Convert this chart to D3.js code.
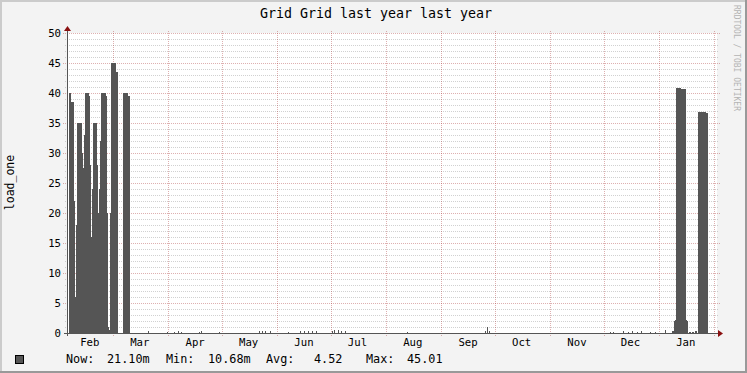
<!DOCTYPE html>
<html>
<head>
<meta charset="utf-8">
<script src="https://cdn.jsdelivr.net/npm/d3@7"></script>
<style>
  html, body { margin: 0; padding: 0; background: #f3f3f3; }
  svg { display: block; }
  text { font-family: "DejaVu Sans Mono", monospace; fill: #000; }
</style>
</head>
<body>
<svg id="chart" width="747" height="373"></svg>
<script>
// rrd step for the yearly archive: one sample per pixel column
const stepHours = 13.45;

// february burst
const febStart = new Date(2013, 1, 3, 18, 27);
const febLoad = [0, 40, 40, 38.5, 38.5, 38.5, 22, 6, 18, 35, 35, 35, 35, 35, 30, 27.5, 33,
  40, 40, 40, 40, 39.5, 28, 16, 24, 35, 35, 35, 35, 28, 20, 24, 32, 40, 40, 40, 40, 40, 39.5,
  20, 1, 0.5, 20, 45, 45, 45, 45, 45, 43.5, 43.5, 0, 0, 0, 0, 0, 40, 40, 40, 40, 40, 39.5, 39.5, 0];

// january burst
const janStart = new Date(2014, 0, 8, 7);
const janLoad = [0.3, 0.3, 2, 2.2, 40.8, 40.8, 40.8, 40.8, 40.8, 40.6, 40.7, 40.7, 40.7, 40.6,
  2.2, 2, 0, 0.2, 0.2, 0, 0.2, 0.2, 0, 0.3, 0.3, 0, 36.8, 36.8, 36.8, 36.8, 36.8, 36.8, 36.8,
  36.8, 36.7, 36.7, 0];

// the little bits in between
const blips = [
  ['2013-03-20 12:00', 0.3], ['2013-03-31 12:00', 0.2], ['2013-04-04 00:00', 0.25],
  ['2013-04-06 12:00', 0.3], ['2013-04-08 00:00', 0.2], ['2013-04-18 00:00', 0.25],
  ['2013-04-19 12:00', 0.3], ['2013-04-29 12:00', 0.2], ['2013-05-22 00:00', 0.35],
  ['2013-05-23 12:00', 0.3], ['2013-05-25 00:00', 0.4], ['2013-05-28 00:00', 0.3],
  ['2013-06-07 00:00', 0.25], ['2013-06-14 00:00', 0.3], ['2013-06-16 00:00', 0.35],
  ['2013-06-18 00:00', 0.3], ['2013-06-20 12:00', 0.35], ['2013-06-23 00:00', 0.3],
  ['2013-07-01 12:00', 0.4], ['2013-07-03 00:00', 0.45], ['2013-07-05 00:00', 0.5],
  ['2013-07-07 00:00', 0.4], ['2013-07-09 00:00', 0.35], ['2013-08-12 12:00', 0.15],
  ['2013-09-25 12:00', 0.3], ['2013-09-26 12:00', 1.05], ['2013-09-27 12:00', 0.3],
  ['2013-12-04 12:00', 0.25], ['2013-12-06 00:00', 0.2], ['2013-12-12 00:00', 0.3],
  ['2013-12-14 12:00', 0.25], ['2013-12-17 00:00', 0.3], ['2013-12-19 12:00', 0.25],
  ['2013-12-22 00:00', 0.3], ['2013-12-27 00:00', 0.25], ['2013-12-29 12:00', 0.2],
  ['2014-01-04 12:00', 0.5]
];

const yTicks = [0, 5, 10, 15, 20, 25, 30, 35, 40, 45, 50];
const title = 'Grid Grid last year last year';
const unitLabel = 'load_one';
const legendItems = [
  ['Now:', 66], ['21.10m', 107], ['Min:', 166], ['10.68m', 208],
  ['Avg:', 266], ['4.52', 314], ['Max:', 366], ['45.01', 407]
];

const W = 747, H = 373;
const colors = {
  back: '#f3f3f3', shadeA: '#cbcbcb', shadeB: '#999999', canvas: '#ffffff',
  grid: 'rgba(140,140,140,0.4)', mgrid: 'rgba(160,30,30,0.35)',
  axis: '#555555', arrow: '#8a1010', area: '#555555'
};

const svg = d3.select('#chart');
const step = stepHours * 3600 * 1000;
const parse = d3.timeParse('%Y-%m-%d %H:%M');

const tStart = new Date(2013, 1, 3, 5);
const tEnd = new Date(2014, 1, 2, 12);
const x = d3.scaleTime().domain([tStart, tEnd]).range([67, 717]);
const y = d3.scaleLinear().domain([0, 50]).range([333, 33]);

// build one series out of the pieces
let series = [{ t: tStart, v: 0 }];
function pushBlock(start, vals) {
  vals.forEach(function (v, i) {
    series.push({ t: new Date(+start + i * step), v: v });
  });
  series.push({ t: new Date(+start + vals.length * step), v: 0 });
}
pushBlock(febStart, febLoad);
blips.forEach(function (b) { pushBlock(parse(b[0]), [b[1]]); });
pushBlock(janStart, janLoad);
series.push({ t: tEnd, v: 0 });
series.sort(function (a, b) { return a.t - b.t; });

// frame
svg.append('rect').attr('width', W).attr('height', H).attr('fill', colors.back);
svg.append('rect').attr('x', 0).attr('y', 0).attr('width', W).attr('height', 2).attr('fill', colors.shadeA);
svg.append('rect').attr('x', 0).attr('y', 0).attr('width', 2).attr('height', H).attr('fill', colors.shadeA);
svg.append('rect').attr('x', 0).attr('y', H - 2).attr('width', W).attr('height', 2).attr('fill', colors.shadeB);
svg.append('rect').attr('x', W - 2).attr('y', 0).attr('width', 2).attr('height', H).attr('fill', colors.shadeB);

svg.append('rect')
  .attr('x', 67).attr('y', 33).attr('width', 650).attr('height', 300)
  .attr('fill', colors.canvas);

// grid
const g = svg.append('g').attr('stroke-dasharray', '1,1').attr('fill', 'none');
d3.range(1, 50).filter(function (v) { return v % 5 !== 0; }).forEach(function (v) {
  const yy = Math.round(y(v)) + 0.5;
  g.append('line').attr('x1', 65).attr('x2', 719).attr('y1', yy).attr('y2', yy)
    .attr('stroke', colors.grid);
});
yTicks.filter(function (v) { return v > 0; }).forEach(function (v) {
  const yy = Math.round(y(v)) + 0.5;
  g.append('line').attr('x1', 63).attr('x2', 720).attr('y1', yy).attr('y2', yy)
    .attr('stroke', colors.mgrid);
});
const months = d3.timeMonth.range(tStart, tEnd);
months.forEach(function (m) {
  const xx = Math.round(x(m)) + 0.5;
  g.append('line').attr('x1', xx).attr('x2', xx).attr('y1', 31).attr('y2', 336)
    .attr('stroke', colors.mgrid);
});

// data
const area = d3.area()
  .x(function (d) { return x(d.t); })
  .y0(y(0))
  .y1(function (d) { return y(d.v); })
  .curve(d3.curveStepAfter);

svg.append('path')
  .datum(series)
  .attr('d', area)
  .attr('fill', colors.area)
  .attr('shape-rendering', 'crispEdges');

// axes
svg.append('line').attr('x1', 64).attr('x2', 719).attr('y1', 333.5).attr('y2', 333.5)
  .attr('stroke', colors.axis);
svg.append('line').attr('x1', 67.5).attr('x2', 67.5).attr('y1', 30).attr('y2', 336)
  .attr('stroke', colors.axis);
svg.append('path').attr('d', 'M64,31L71,31L67.5,26Z').attr('fill', colors.arrow);
svg.append('path').attr('d', 'M718,330L718,337L723,333.5Z').attr('fill', colors.arrow);

// labels
svg.append('g').selectAll('text')
  .data(yTicks)
  .enter().append('text')
  .attr('x', 61)
  .attr('y', function (d) { return y(d) + 4; })
  .attr('text-anchor', 'end')
  .style('font-size', '10.67px')
  .text(function (d) { return d; });

const labelMonths = d3.timeMonth.range(d3.timeMonth.floor(tStart), tEnd)
  .map(function (m) { return d3.timeDay.offset(m, 15); })
  .filter(function (m) { return m >= tStart && m <= tEnd; });
svg.append('g').selectAll('text')
  .data(labelMonths)
  .enter().append('text')
  .attr('x', function (d) { return x(d); })
  .attr('y', 346)
  .attr('text-anchor', 'middle')
  .style('font-size', '10.67px')
  .text(function (d) { return d3.timeFormat('%b')(d); });

svg.append('text')
  .attr('x', 376).attr('y', 18)
  .attr('text-anchor', 'middle')
  .style('font-size', '13.3px')
  .text(title);

svg.append('text')
  .attr('transform', 'translate(13.5,182.5) rotate(-90)')
  .attr('text-anchor', 'middle')
  .style('font-size', '11.5px')
  .text(unitLabel);

svg.append('text')
  .attr('transform', 'translate(734,5) rotate(90)')
  .style('font-size', '8px')
  .style('fill', '#b4b4b4')
  .text('RRDTOOL / TOBI OETIKER');

// legend
svg.append('rect')
  .attr('x', 15.5).attr('y', 355.5).attr('width', 8).attr('height', 8)
  .attr('fill', colors.area).attr('stroke', '#000');
svg.append('g').selectAll('text')
  .data(legendItems)
  .enter().append('text')
  .attr('x', function (d) { return d[1]; })
  .attr('y', 363)
  .style('font-size', '11.8px')
  .text(function (d) { return d[0]; });
</script>
</body>
</html>
